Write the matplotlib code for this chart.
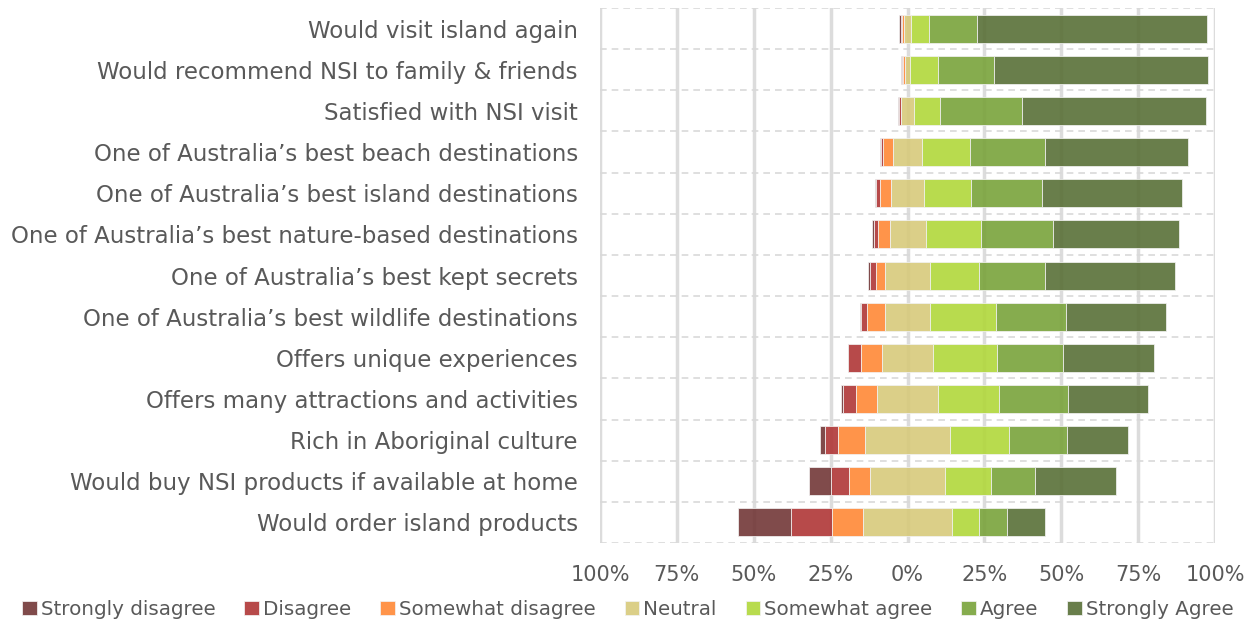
import matplotlib.pyplot as plt
import numpy as np

statements = [
    'Would visit island again',
    'Would recommend NSI to family & friends',
    'Satisfied with NSI visit',
    'One of Australia\u2019s best beach destinations',
    'One of Australia\u2019s best island destinations',
    'One of Australia\u2019s best nature-based destinations',
    'One of Australia\u2019s best kept secrets',
    'One of Australia\u2019s best wildlife destinations',
    'Offers unique experiences',
    'Offers many attractions and activities',
    'Rich in Aboriginal culture',
    'Would buy NSI products if available at home',
    'Would order island products',
]

# percentages per response level, rows in the same order as statements
strongly_disagree = [0.5, 0.3, 0.3, 0.2, 0.2, 0.6, 0.6, 0.4, 0.2, 0.6, 1.7, 7.4, 17.3]
disagree = [0.4, 0.4, 0.5, 0.8, 1.6, 1.4, 1.8, 2.0, 4.0, 4.2, 4.3, 5.8, 13.3]
somewhat_disagree = [0.8, 0.4, 0.0, 3.2, 3.4, 3.7, 3.1, 5.7, 6.9, 7.0, 8.7, 6.9, 10.1]
neutral = [2.1, 1.9, 4.3, 9.5, 10.8, 11.7, 14.4, 14.9, 16.6, 19.6, 27.5, 24.1, 28.7]
somewhat_agree = [5.9, 8.9, 8.3, 15.5, 15.3, 18.1, 15.9, 21.4, 20.8, 19.9, 19.1, 15.1, 8.8]
agree = [15.5, 18.3, 26.7, 24.4, 23.1, 23.2, 21.5, 22.6, 21.4, 22.5, 19.1, 14.3, 9.1]
strongly_agree = [74.8, 69.7, 59.8, 46.5, 45.5, 41.2, 42.4, 32.7, 29.8, 26.1, 19.6, 26.3, 12.5]

levels = ['Strongly disagree', 'Disagree', 'Somewhat disagree', 'Neutral',
          'Somewhat agree', 'Agree', 'Strongly Agree']
colors = ['#723737', '#b03636', '#ff8836', '#d7ca7b', '#b1d73b', '#79a33b', '#597037']

series = [strongly_disagree, disagree, somewhat_disagree, neutral,
          somewhat_agree, agree, strongly_agree]
data = np.array(series)

grey = '#595959'
plt.rcParams['font.family'] = 'DejaVu Sans'

fig = plt.figure(figsize=(12.56, 6.23), dpi=100)
ax = fig.add_axes([0.4777, 0.1284, 0.4897, 0.8587])

y = np.arange(len(statements))
# neutral is centred on zero
left = -(data[0] + data[1] + data[2] + data[3] / 2)
for vals, lab, col in zip(data, levels, colors):
    ax.barh(y, vals, left=left, height=0.68, color=col, alpha=0.9,
            label=lab, edgecolor='#f2f2f2', linewidth=0.6, zorder=3)
    left = left + vals

ax.set_xlim(-100, 100)
ax.set_ylim(len(statements) - 0.5, -0.5)
ticks = np.arange(-100, 101, 25)
ax.set_xticks(ticks)
ax.set_xticklabels([f'{abs(t)}%' for t in ticks])
ax.set_yticks(y)
ax.set_yticklabels(statements)
ax.set_yticks(np.arange(-0.5, len(statements), 1), minor=True)

ax.grid(axis='x', which='major', color='#dcdcdc', linewidth=2.5, zorder=0)
ax.grid(axis='y', which='minor', color='#d9d9d9', linewidth=1.2,
        linestyle=(0, (4, 3)), zorder=0)
ax.set_axisbelow(True)
for s in ax.spines.values():
    s.set_visible(False)

ax.tick_params(axis='x', which='major', length=0, pad=16, labelsize=15, labelcolor=grey)
ax.tick_params(axis='y', which='major', length=0, pad=16, labelsize=16.5, labelcolor=grey)
ax.tick_params(axis='y', which='minor', length=0)

fig.legend(loc='lower center', bbox_to_anchor=(0.5, -0.022), ncol=7,
           frameon=False, handlelength=0.75, handleheight=0.75,
           handletextpad=0.2, columnspacing=1.45, fontsize=14.3,
           labelcolor=grey)

fig.savefig('out.png', dpi=100)
